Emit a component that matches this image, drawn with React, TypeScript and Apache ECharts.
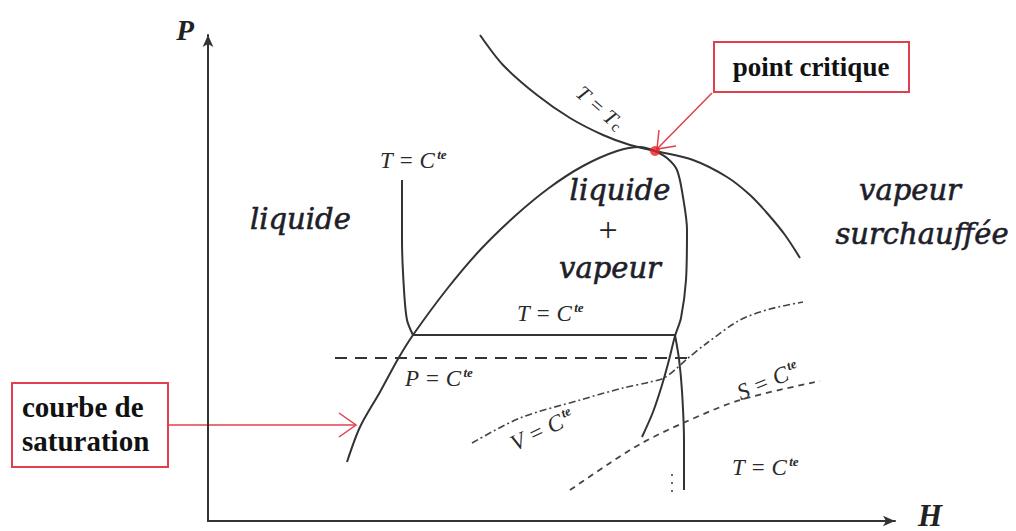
import React, { useEffect, useRef } from "react";
import * as echarts from "echarts";

// P-H (pressure / enthalpy) diagram, schematic units.
// H spans 0..687, P spans 0..486 on the plotting area.
const H_MAX = 687;
const P_MAX = 486;

// Saturation dome: liquid branch up to the critical point
const satLiquid: [number, number][] = [
  [139, 59], [152, 94], [172, 129], [190, 162], [205, 186], [239, 232],
  [273, 272], [307, 305], [341, 333], [375, 355], [409, 370], [432, 374], [447, 370],
];
// Saturation dome: vapour branch down from the critical point
const satVapour: [number, number][] = [
  [447, 370], [459, 363], [469, 351], [475, 324], [479, 291], [478, 241],
  [473, 203], [467, 185], [461, 161], [454, 136], [445, 109], [434, 84],
];
// Critical isotherm T = Tc
const isoCritical: [number, number][] = [
  [272, 486], [295, 456], [329, 426], [362, 403], [395, 386], [422, 376],
  [447, 370], [485, 361], [519, 344], [542, 326], [559, 308], [577, 286], [592, 263],
];
// Sub-critical isotherm: liquid part, plateau, vapour part
const isoLiquid: [number, number][] = [
  [194, 341], [194, 281], [196, 231], [199, 201], [205, 186],
];
const isoPlateau: [number, number][] = [[205, 186], [467, 186]];
const isoVapour: [number, number][] = [
  [467, 186], [471, 162], [474, 130], [476, 80], [476, 31],
];
// Isobar P = Cte
const isobar: [number, number][] = [[127, 163], [479, 163]];
// Isochore V = Cte
const isochore: [number, number][] = [
  [264, 78], [312, 103], [372, 121], [415, 133], [442, 139], [456, 143],
  [469, 153], [479, 162], [499, 178], [532, 201], [562, 212], [595, 219],
];
// Isentrope S = Cte
const isentrope: [number, number][] = [
  [362, 31], [402, 58], [434, 78], [475, 98], [532, 121], [612, 140],
];
// Short dotted continuation near the bottom
const dotted: [number, number][] = [[464, 47], [464, 29]];
// Critical point
const criticalPoint: [number, number][] = [[447, 370]];

const INK = "#333333";
const RED = "#e0404e";
const SERIF = "'Liberation Serif', 'DejaVu Serif', serif";
const ITALIC_SERIF = "'DejaVu Serif', serif";

function curve(data: [number, number][], type: any = "solid", smooth: number | boolean = 0.3) {
  return {
    type: "line",
    data,
    smooth,
    symbol: "none",
    silent: true,
    lineStyle: { color: INK, width: 2, type },
  };
}

const cteRich = {
  a: { fontFamily: SERIF, fontStyle: "italic", fontSize: 23, fill: "#2a2a2a", textStroke: "#2a2a2a", textStrokeWidth: 0.3 },
  b: { fontFamily: SERIF, fontStyle: "italic", fontWeight: "bold", fontSize: 13, fill: "#2a2a2a", padding: [0, 0, 12, 2] },
};

function cteLabel(x: number, y: number, name: string, rotation = 0, align = "left") {
  return {
    type: "text",
    x,
    y,
    rotation,
    style: {
      text: `{a|${name} = C}{b|te}`,
      rich: cteRich,
      align,
      verticalAlign: "middle",
    },
  };
}

function bigItalic(x: number, y: number, text: string, align = "center") {
  return {
    type: "text",
    x,
    y,
    style: {
      text,
      font: `italic 29px ${ITALIC_SERIF}`,
      fill: "#1e1e2a",
      stroke: "#1e1e2a",
      lineWidth: 0.6,
      align,
      verticalAlign: "middle",
    },
  };
}

export default function App() {
  const ref = useRef<HTMLDivElement>(null);

  useEffect(() => {
    if (!ref.current) return;
    const chart = echarts.init(ref.current, undefined, { renderer: "svg" });
    chart.setOption({
      animation: false,
      backgroundColor: "#ffffff",
      grid: { left: 208, right: 121, top: 35, bottom: 10 },
      xAxis: {
        type: "value",
        min: 0,
        max: H_MAX,
        axisLine: { show: true, lineStyle: { color: INK, width: 2 }, symbol: ["none", "arrow"], symbolSize: [8, 12] },
        axisTick: { show: false },
        axisLabel: { show: false },
        splitLine: { show: false },
      },
      yAxis: {
        type: "value",
        min: 0,
        max: P_MAX,
        axisLine: { show: true, lineStyle: { color: INK, width: 2 }, symbol: ["none", "arrow"], symbolSize: [8, 12] },
        axisTick: { show: false },
        axisLabel: { show: false },
        splitLine: { show: false },
      },
      series: [
        curve(satLiquid),
        curve(satVapour),
        curve(isoCritical),
        curve(isoLiquid),
        curve(isoPlateau, "solid", false),
        curve(isoVapour),
        { ...curve(isobar, [12, 8], false), lineStyle: { color: INK, width: 2, type: [12, 8] } },
        { ...curve(isochore, [7, 3, 2, 3]), lineStyle: { color: "#444", width: 1.6, type: [7, 3, 2, 3] } },
        { ...curve(isentrope, [6, 5]), lineStyle: { color: "#444", width: 1.8, type: [6, 5] } },
        { ...curve(dotted, [2, 6], false), lineStyle: { color: "#666", width: 2, type: [2, 6] } },
        {
          type: "scatter",
          data: criticalPoint,
          symbol: "circle",
          symbolSize: 10,
          itemStyle: { color: "#e8202a" },
          silent: true,
          z: 5,
        },
      ],
      graphic: [
        // axis names
        { type: "text", x: 185, y: 30, style: { text: "P", font: `italic bold 29px ${SERIF}`, fill: "#222", align: "center", verticalAlign: "middle" } },
        { type: "text", x: 930, y: 515, style: { text: "H", font: `italic bold 31px ${SERIF}`, fill: "#222", align: "center", verticalAlign: "middle" } },
        // region names
        bigItalic(250, 219, "liquide", "left"),
        bigItalic(620, 190, "liquide"),
        { type: "text", x: 608, y: 229, style: { text: "+", font: `34px ${SERIF}`, fill: "#222", align: "center", verticalAlign: "middle" } },
        bigItalic(610, 268, "vapeur"),
        bigItalic(910, 190, "vapeur"),
        bigItalic(922, 234, "surchauffée"),
        // isoline labels
        cteLabel(380, 160, "T"),
        cteLabel(517, 313, "T"),
        cteLabel(405, 378, "P"),
        cteLabel(732, 467, "T"),
        cteLabel(542, 430, "V", 0.45, "center"),
        cteLabel(768, 381, "S", 0.4, "center"),
        {
          type: "text",
          x: 600,
          y: 108,
          rotation: -0.72,
          style: {
            text: "{a|T = T}{c|c}",
            rich: {
              a: { fontFamily: SERIF, fontStyle: "italic", fontSize: 21, fill: "#2a2a2a" },
              c: { fontFamily: SERIF, fontSize: 15, fill: "#2a2a2a", padding: [7, 0, 0, 1] },
            },
            align: "center",
            verticalAlign: "middle",
          },
        },
        // "point critique" callout
        { type: "rect", shape: { x: 714, y: 42, width: 195, height: 50 }, style: { fill: "#fff", stroke: RED, lineWidth: 2 } },
        { type: "text", x: 811, y: 67, style: { text: "point critique", font: `bold 27px ${SERIF}`, fill: "#111", align: "center", verticalAlign: "middle" } },
        { type: "line", shape: { x1: 712, y1: 93, x2: 657, y2: 149 }, style: { stroke: RED, lineWidth: 1.5 } },
        { type: "polyline", shape: { points: [[659, 130], [657, 149], [676, 146]] }, style: { stroke: RED, lineWidth: 1.5, fill: null } },
        // "courbe de saturation" callout
        { type: "rect", shape: { x: 12, y: 383, width: 156, height: 84 }, style: { fill: "#fff", stroke: RED, lineWidth: 2 } },
        { type: "text", x: 22, y: 424, style: { text: "courbe de\nsaturation", font: `bold 29px ${SERIF}`, lineHeight: 34, fill: "#111", align: "left", verticalAlign: "middle" } },
        { type: "line", shape: { x1: 168, y1: 425, x2: 355, y2: 425 }, style: { stroke: RED, lineWidth: 1.5 } },
        { type: "polyline", shape: { points: [[339, 413], [356, 425], [339, 437]] }, style: { stroke: RED, lineWidth: 1.5, fill: null } },
      ],
    });
    return () => chart.dispose();
  }, []);

  return (
    <div
      ref={ref}
      style={{ position: "fixed", left: 0, top: 0, width: 1016, height: 531, background: "#fff" }}
    />
  );
}
